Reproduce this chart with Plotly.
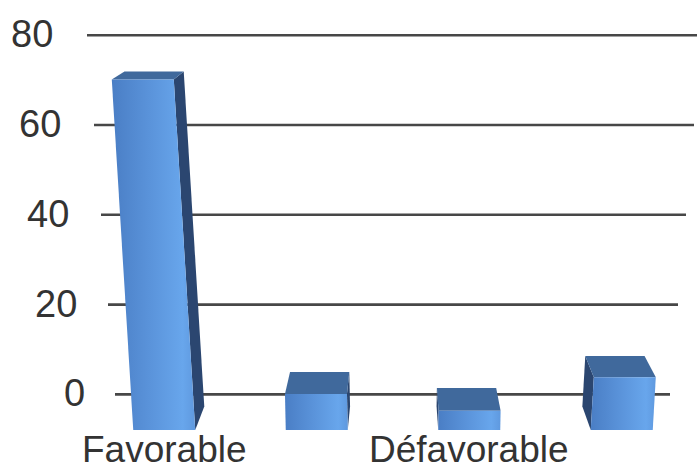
import plotly.graph_objects as go

# ---- data -------------------------------------------------------------
categories = ["Favorable", "", "Défavorable", ""]
values = [73, 7.5, 4, 11]
tick_values = [0, 20, 40, 60, 80]
tick_labels = ["0", "20", "40", "60", "80"]

# ---- canvas / scale set-up ----------------------------------------------
W, H = 697, 469
X0_PX, X_STEP = 164.25, 152.5          # category centre spacing (px)
FLOOR_PX, BAR_PX_PER_UNIT = 430.0, 4.8  # bar (front plane) scale
WALL0_PX, WALL_PX_PER_UNIT = 394.4, 4.49  # back-wall gridline scale

x_range = [-X0_PX / X_STEP, (W - X0_PX) / X_STEP]
y2_range = [(FLOOR_PX - H) / BAR_PX_PER_UNIT, FLOOR_PX / BAR_PX_PER_UNIT]
y_range = [(WALL0_PX - H) / WALL_PX_PER_UNIT, WALL0_PX / WALL_PX_PER_UNIT]

# perspective styling
VP = (400.0, -105.0)   # vanishing point (px)
DEPTH = 0.044          # bar depth toward vanishing point
SHEAR = 0.00026        # vertical-edge lean for tall columns
HALF_W = 31.0          # half width of a column face (px)

FRONT_SCALE = [[0, "#4A7EC5"], [0.45, "#5A93DA"], [0.85, "#68A6EC"], [1, "#5F99DF"]]
TOP_COLOR = "#40699C"
SIDE_COLOR = "#2B4670"
FONT = "Liberation Sans, Arial, sans-serif"


def cat_px(i):
    return X0_PX + X_STEP * i


def bar_px(v):
    return FLOOR_PX - BAR_PX_PER_UNIT * v


def to_x(px):
    return (px - X0_PX) / X_STEP


def to_y2(py):
    return (FLOOR_PX - py) / BAR_PX_PER_UNIT


def recede(p):
    return (p[0] + DEPTH * (VP[0] - p[0]), p[1] + DEPTH * (VP[1] - p[1]))


def poly_trace(pts, **kw):
    xs = [to_x(p[0]) for p in pts] + [to_x(pts[0][0])]
    ys = [to_y2(p[1]) for p in pts] + [to_y2(pts[0][1])]
    return go.Scatter(x=xs, y=ys, xaxis="x", yaxis="y2", mode="lines",
                      fill="toself", line=dict(width=0), hoverinfo="skip",
                      showlegend=False, **kw)


fig = go.Figure()

for i, v in enumerate(values):
    xc = cat_px(i)
    y_bot, y_top = bar_px(0), bar_px(v)
    lean = -(VP[0] - xc) * SHEAR * (y_bot - y_top)
    bl, br = (xc - HALF_W, y_bot), (xc + HALF_W, y_bot)
    tl, tr = (xc - HALF_W + lean, y_top), (xc + HALF_W + lean, y_top)

    # visible side face
    if xc < VP[0]:
        side = [br, tr, recede(tr), recede(br)]
    else:
        side = [bl, tl, recede(tl), recede(bl)]
    fig.add_trace(poly_trace(side, fillcolor=SIDE_COLOR))

    # top face
    fig.add_trace(poly_trace([tl, tr, recede(tr), recede(tl)], fillcolor=TOP_COLOR))

    # front face
    fig.add_trace(poly_trace([bl, br, tr, tl],
                             fillgradient=dict(type="horizontal", colorscale=FRONT_SCALE)))

# back-wall gridlines and their labels
shapes, annotations = [], []
for tv, tl_text in zip(tick_values, tick_labels):
    left_px = 115 - 0.35 * tv
    right_px = 670 + 0.4 * tv
    shapes.append(dict(type="line", xref="paper", yref="y",
                       x0=left_px / W, x1=right_px / W, y0=tv, y1=tv,
                       line=dict(color="#474747", width=2.6), layer="below"))
    annotations.append(dict(text=tl_text, xref="paper", yref="y",
                            x=(87 - 0.4 * tv) / W, y=tv, xanchor="right",
                            yanchor="middle", yshift=1, showarrow=False,
                            font=dict(family=FONT, size=38, color="#333333")))

# category labels under the floor
for i, name in enumerate(categories):
    if name:
        annotations.append(dict(text=name, xref="x", yref="paper", x=i,
                                y=1 - 449 / H, xanchor="center", yanchor="middle",
                                showarrow=False,
                                font=dict(family=FONT, size=37, color="#333333")))

fig.update_layout(
    width=W, height=H,
    margin=dict(l=0, r=0, t=0, b=0),
    paper_bgcolor="white", plot_bgcolor="white",
    showlegend=False,
    xaxis=dict(range=x_range, visible=False, fixedrange=True),
    yaxis=dict(range=y_range, visible=False, fixedrange=True),
    yaxis2=dict(range=y2_range, visible=False, overlaying="y", fixedrange=True),
    shapes=shapes,
    annotations=annotations,
)

fig.write_html("out.html")
